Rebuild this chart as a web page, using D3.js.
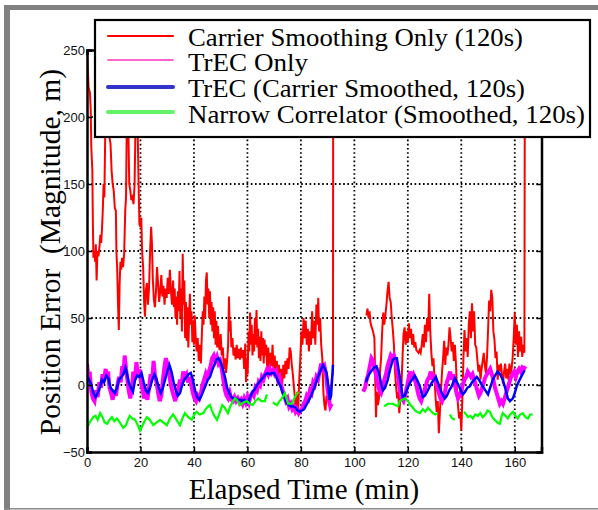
<!DOCTYPE html>
<html><head><meta charset="utf-8">
<script src="https://cdn.jsdelivr.net/npm/d3@7"></script>
<style>body{margin:0;background:#fff}svg{display:block}</style>
</head><body>
<svg id="chart" width="598" height="510"></svg>
<script>
// ---------------- DATA ----------------
const seriesNames = ["Carrier Smoothing Only (120s)", "TrEC Only", "TrEC (Carrier Smoothed, 120s)", "Narrow Correlator (Smoothed, 120s)"];
const xTicks = [0, 20, 40, 60, 80, 100, 120, 140, 160];
const yTicks = [-50, 0, 50, 100, 150, 200, 250];
const xLabel = "Elapsed Time (min)";
const yLabel = "Position Error  (Magnitude, m)";

// [minutes, metres]; null = data gap
const carrierSmoothingOnly = [
[0,250],[0.3,235],[0.6,222],[1.1,218],[1.4,205],[1.6,178],[2.0,160],[2.2,120],[2.4,95],[2.8,100],[3.0,92],[3.3,105],[3.6,78],[3.9,100],[4.3,96],[4.7,104],[5.0,112],[5.3,106],[5.6,116],[5.9,130],[6.2,150],[6.5,140],[6.8,185],[7.1,230],[7.4,200],[7.7,250],[8.0,210],[8.4,185],[8.8,180],[9.2,160],[9.6,150],[10.0,145],[10.4,132],[10.8,130],[11.0,100],[11.3,86],[11.6,60],[11.9,41],[12.2,75],[12.5,92],[12.8,86],[13.1,95],[13.5,88],[13.9,98],[14.3,130],[14.6,140],[15.0,220],[15.4,200],[15.8,150],[16.2,145],[16.6,138],[17.0,140],[17.4,135],[17.8,150],[18.2,200],[18.6,240],[19.0,185],[19.3,150],[19.6,120],[20.0,118],[20.3,125],[20.6,100],[21.0,88],[21.4,60],[21.7,51],[22.0,70],[22.4,76],[22.8,60],[23.2,72],[23.6,100],[24.0,118],[24.3,105],[24.6,80],[25.0,64],[25.4,58],[25.8,70],[26.2,88],[26.6,75],[27.0,62],[27.4,70],[27.8,82],[28.2,66],[28.6,74],[29.0,60],[29.4,72],[29.8,65],[30.2,80],[30.6,68],[31.0,86],[31.4,70],[31.8,60],[32.2,78],[32.5,58],[32.8,72],[33.1,50],[33.4,66],[33.7,45],[34.0,70],[34.3,55],[34.6,85],[34.9,50],[35.2,72],[35.5,40],[35.8,98],[36.1,60],[36.4,78],[36.7,35],[37.0,62],[37.3,33],[37.6,58],[37.9,28],[38.2,50],[38.5,68],[38.8,45],[39.1,55],[39.4,32],[39.7,48],[40.0,30],[40.3,52],[40.6,38],[41.0,25],[41.4,35],[41.8,18],[42.2,30],[42.6,16],[43.0,40],[43.3,55],[43.6,45],[43.9,66],[44.2,50],[44.5,78],[44.8,84],[45.1,60],[45.4,72],[45.7,50],[46.0,70],[46.3,45],[46.6,62],[46.9,40],[47.2,58],[47.5,35],[47.8,55],[48.1,30],[48.4,48],[48.7,28],[49.0,44],[49.3,30],[49.6,26],[50.0,38],[50.4,22],[50.8,28],[51.2,12],[51.6,20],[52.0,9],[52.4,18],[52.8,30],[53.1,66],[53.4,40],[53.7,48],[54.0,28],[54.4,35],[54.8,22],[55.2,28],[55.6,19],[56.0,30],[56.4,20],[56.8,27],[57.2,19],[57.6,28],[58.0,20],[58.4,26],[58.8,12],[59.2,31],[59.5,2],[59.8,20],[60.1,8],[60.4,40],[60.7,25],[61.0,54],[61.3,30],[61.6,45],[61.9,22],[62.2,38],[62.5,25],[62.8,50],[63.1,30],[63.4,56],[63.7,28],[64.0,42],[64.3,20],[64.6,36],[64.9,18],[65.2,40],[65.5,22],[65.8,35],[66.1,16],[66.4,34],[66.7,22],[67.0,30],[67.4,12],[67.8,28],[68.2,10],[68.6,24],[69.0,14],[69.4,30],[69.8,10],[70.2,22],[70.6,8],[71.0,18],[71.4,5],[71.8,15],[72.2,2],[72.6,12],[73.0,0],[73.4,15],[73.8,5],[74.2,18],[74.6,8],[75.0,20],[75.4,12],[75.8,28],[76.2,25],[76.6,15],[77.0,8],[77.4,-2],[77.8,-10],[78.2,-19],[78.6,-5],[79.0,-19],[79.4,5],[79.8,20],[80.2,40],[80.6,30],[81.0,50],[81.4,35],[81.8,48],[82.2,30],[82.6,42],[83.0,25],[83.4,40],[83.8,30],[84.2,55],[84.6,35],[85.0,48],[85.4,30],[85.8,60],[86.2,45],[86.5,65],[86.8,40],[87.2,50],[87.6,30],[88.0,20],[88.4,-5],[88.8,-15],[89.2,-19],[89.6,-8],[90.0,-10],[90.4,0],[90.8,-15],[91.2,-5],[91.6,5],[92.0,10],[92.1,270],
null,
[104.5,52],[104.9,57],[105.3,50],[105.7,55],[106.0,47],[106.5,43],[107.0,40],[107.5,35],[107.8,5],[108.1,-24],[108.4,-5],[108.8,-15],[109.2,-10],[109.6,10],[110.0,20],[110.4,40],[110.8,54],[111.2,45],[111.6,52],[112.0,60],[112.4,70],[112.8,77],[113.2,65],[113.6,62],[114.0,50],[114.4,41],[114.8,30],[115.2,10],[115.6,-1],[116.0,-10],[116.4,-5],[116.8,-21],[117.2,-10],[117.6,-2],[118.0,20],[118.4,38],[118.8,43],[119.2,30],[119.6,40],[120.0,32],[120.4,46],[120.8,35],[121.2,42],[121.6,30],[122.0,38],[122.4,28],[122.8,32],[123.2,26],[123.6,25],[124.0,24],[124.4,26],[124.8,24],[125.2,30],[125.6,38],[126.0,28],[126.4,45],[126.8,32],[127.2,50],[127.6,40],[128.0,68],[128.4,40],[128.8,24],[129.2,14],[129.6,20],[130.0,4],[130.4,-10],[130.8,-20],[131.2,-12],[131.6,-36],[132.0,-20],[132.4,-5],[132.8,10],[133.2,20],[133.6,33],[134.0,15],[134.4,28],[134.8,22],[135.2,30],[135.6,43],[136.0,35],[136.4,25],[136.8,32],[137.2,18],[137.6,30],[138.0,16],[138.4,-5],[138.8,-16],[139.2,-25],[139.6,-20],[140.0,-34],[140.4,-10],[140.8,20],[141.2,41],[141.6,25],[142.0,35],[142.4,21],[142.8,45],[143.2,55],[143.6,35],[144.0,61],[144.4,40],[144.8,55],[145.2,30],[145.6,28],[146.0,19],[146.4,10],[146.8,15],[147.2,4],[147.6,12],[148.0,18],[148.4,24],[148.8,15],[149.2,9],[149.6,20],[150.0,40],[150.4,63],[150.8,55],[151.2,71],[151.6,65],[152.0,40],[152.4,34],[152.8,20],[153.2,25],[153.6,4],[154.0,15],[154.4,10],[154.8,16],[155.2,8],[155.6,1],[156.0,10],[156.4,16],[156.8,5],[157.2,12],[157.6,4],[158.0,16],[158.4,8],[158.8,12],[159.2,20],[159.6,35],[160.0,54],[160.4,30],[160.8,45],[161.2,21],[161.6,40],[162.0,25],[162.4,36],[162.8,21],[163.2,30],[163.6,24],[163.8,270]
];

const trecOnly = [
[0,16],[0.5,5],[1,10],[1.6,-5],[2.2,-10],[2.8,-12],[3.4,-4],[4,-9],[4.6,2],[5.2,-2],[5.8,8],[6.4,4],[7,12],[7.4,6],[7.9,10],[8.4,-2],[9,-6],[9.6,-11],[10.2,-4],[10.8,-8],[11.4,0],[12,6],[12.6,2],[13.2,14],[13.6,8],[14.1,22],[14.6,12],[15.1,4],[15.6,-4],[16.2,-10],[16.8,-2],[17.3,10],[17.9,4],[18.5,17],[19,6],[19.6,12],[20.2,2],[20.8,-4],[21.4,-10],[22,-6],[22.6,-11],[23.2,-2],[23.8,8],[24.4,4],[24.9,18],[25.4,8],[26,2],[26.6,-6],[27.2,-12],[27.8,-8],[28.4,4],[29,14],[29.5,20],[30,16],[30.6,10],[31.2,2],[31.8,-4],[32.4,-8],[33,-12],[33.6,-6],[34.2,-2],[34.8,4],[35.4,0],[36,10],[36.6,6],[37.2,8],[37.8,2],[38.4,6],[39,0],[39.6,-6],[40.2,-10],[40.8,-12],[41.4,-8],[42,-10],[42.6,-6],[43.2,0],[43.8,4],[44.4,8],[45,4],[45.6,10],[46.2,14],[46.8,20],[47.4,22],[48,18],[48.6,21],[49.2,16],[49.8,18],[50.4,12],[51,4],[51.6,-4],[52.2,-8],[52.8,-10],[53.4,-6],[54,-11],[54.6,-12],[55.2,-9],[55.8,-12],[56.4,-10],[57,-13],[57.6,-11],[58.2,-14],[58.8,-10],[59.4,-13],[60,-9],[60.6,-13],[61.2,-8],[61.8,-6],[62.4,-8],[63,-2],[63.6,-4],[64.2,2],[64.8,0],[65.4,6],[66,4],[66.6,8],[67.2,11],[67.8,8],[68.4,12],[69,9],[69.6,11],[70.2,8],[70.8,10],[71.4,4],[72,6],[72.6,0],[73.2,-4],[73.8,-8],[74.4,-12],[75,-10],[75.6,-16],[76.2,-14],[76.8,-18],[77.4,-16],[78,-20],[78.6,-18],[79.2,-21],[79.8,-19],[80.4,-18],[81,-14],[81.6,-12],[82.2,-8],[82.8,-10],[83.4,-4],[84,-6],[84.6,2],[85.2,0],[85.8,6],[86.4,4],[87,10],[87.6,16],[88.2,12],[88.8,14],[89.4,8],[90,-4],[90.6,-12],[91,-16],[91.5,-14],
null,
[103.3,-5],[104,-2],[104.6,4],[105.2,8],[105.8,14],[106.4,20],[107,18],[107.6,12],[108.2,6],[108.8,0],[109.4,-4],[110,-6],[110.6,-2],[111.2,4],[111.8,8],[112.4,14],[113,18],[113.6,22],[114.2,20],[114.8,22],[115.4,18],[116,10],[116.6,2],[117.2,-6],[117.8,-10],[118.4,-12],[119,-8],[119.6,-2],[120.2,4],[120.8,10],[121.4,6],[122,8],[122.6,4],[123.2,0],[123.8,-6],[124.4,-10],[125,-12],[125.6,-8],[126.2,-4],[126.8,0],[127.4,4],[128,6],[128.6,10],[129.2,4],[129.8,8],[130.4,2],[131,-2],[131.6,-6],[132.2,-10],[132.8,-12],[133.4,-8],[134,-4],[134.6,2],[135.2,6],[135.8,10],[136.4,4],[137,8],[137.6,0],[138.2,-6],[138.8,-10],[139.4,-8],[140,-4],[140.6,0],[141.2,4],[141.8,6],[142.4,10],[143,8],[143.6,6],[144.2,8],[144.8,4],[145.4,0],[146,-4],[146.6,-8],[147.2,-6],[147.8,-2],[148.4,2],[149,6],[149.6,8],[150.2,10],[150.8,12],[151.4,8],[152,4],[152.6,-2],[153.2,-6],[153.8,-10],[154.4,-14],[155,-12],[155.6,-14],[156.2,-10],[156.8,-6],[157.4,-2],[158,2],[158.6,6],[159.2,8],[159.8,10],[160.4,6],[161,10],[161.6,12],[162.2,10],[162.8,13],[163.4,12],[164,14]
];

const trecCarrierSmoothed = [
[0,7],[0.8,4],[1.6,0],[2.4,-6],[3.2,-9],[4,-6],[4.8,-2],[5.6,4],[6.4,2],[7.2,7],[8,5],[8.8,-2],[9.6,-4],[10.4,-6],[11.2,-2],[12,4],[12.8,6],[13.6,8],[14.4,13],[15,8],[15.6,2],[16.4,-2],[17.2,-5],[18,4],[18.8,7],[19.6,6],[20.4,9],[21.2,2],[22,-4],[22.8,-6],[23.6,-2],[24.4,4],[25.2,8],[26,4],[26.8,-2],[27.6,-6],[28.4,-2],[29.2,4],[30,10],[30.8,15],[31.6,10],[32.4,2],[33.2,-4],[34,-8],[34.8,-6],[35.6,0],[36.4,4],[37.2,6],[38,8],[38.8,9],[39.6,4],[40.4,-4],[41.2,-9],[42,-11],[42.8,-8],[43.6,-4],[44.4,0],[45.2,4],[46,6],[46.8,11],[47.6,15],[48.4,19],[49.2,20],[50,17],[50.8,12],[51.6,6],[52.4,-2],[53.2,-6],[54,-9],[54.8,-10],[55.6,-10],[56.4,-11],[57.2,-11],[58,-12],[58.8,-11],[59.6,-13],[60.4,-12],[61.2,-8],[62,-5],[62.8,-3],[63.6,0],[64.4,2],[65.2,4],[66,6],[66.8,8],[67.6,9],[68.4,8],[69.2,9],[70,9],[70.8,6],[71.6,2],[72.4,-1],[73.2,-6],[74,-10],[74.8,-14],[75.6,-15],[76.4,-16],[77.2,-16],[78,-17],[78.8,-19],[79.6,-20],[80.4,-19],[81.2,-18],[82,-15],[82.8,-12],[83.6,-9],[84.4,-5],[85.2,-1],[86,4],[86.8,8],[87.6,12],[88.3,15],[89,12],[89.6,9],[90.2,0],[90.8,-11],[91.3,-8],[91.7,5],[92,15],
null,
[104.3,2],[105,6],[105.8,9],[106.6,11],[107.4,13],[108.3,14],[109,10],[109.5,6],[110.1,0],[110.7,-4],[111.5,-2],[112.5,4],[113.4,12],[114.4,19],[115.2,20],[115.9,20],[116.5,12],[117,6],[117.6,-2],[118.1,-10],[118.8,-8],[119.6,-4],[120.4,0],[121.2,3],[122,5],[122.6,7],[123.4,4],[124.5,-1],[125,-5],[125.6,-9],[126.4,-8],[127.2,-5],[128.2,-1],[129,2],[129.8,4],[130.5,6],[131.2,2],[132,-2],[132.7,-6],[133.8,-10],[134.6,-8],[135.5,-4],[136.4,-1],[137,2],[137.6,5],[138.4,2],[139.4,-2],[140,-5],[140.6,-7],[141.4,-5],[142.3,-2],[143.2,-1],[144,2],[144.9,4],[145.8,6],[146.6,4],[147.4,1],[148,-1],[149,-4],[150,-7],[150.8,-2],[151.8,4],[152.6,7],[153.6,10],[154.5,8],[155.5,4],[156.4,-2],[157.4,-10],[158.2,-12],[159.3,-10],[160,-6],[160.7,-1],[161.6,3],[162.6,7],[163.7,11]
];

const narrowCorrelator = [
[0,-32],[1,-28],[2.3,-24],[3.2,-23],[4,-26],[4.9,-21],[5.8,-24],[6.6,-28],[7.5,-29],[8.4,-26],[9.3,-24],[10.2,-27],[11.2,-25],[12.3,-28],[13.5,-32],[14.6,-30],[15.3,-26],[16,-23],[17,-25],[18,-26],[19,-30],[19.8,-34],[20.6,-31],[21.5,-27],[22.4,-24],[23.5,-26],[24.8,-30],[26,-28],[27.3,-26],[28.6,-28],[29.9,-30],[31,-25],[32.2,-22],[33.5,-26],[34.8,-30],[35.7,-25],[36.6,-21],[37.9,-24],[39.2,-26],[40.1,-22],[41,-20],[42.2,-22],[43.5,-21],[44.4,-18],[45.3,-16],[46,-15],[46.7,-19],[47.6,-23],[48.6,-26],[49.6,-21],[50.6,-15],[51.5,-17],[52.7,-21],[53.6,-16],[54.6,-12],[55.4,-10],[56,-11],[57.2,-15],[58.5,-13],[59.8,-12],[60.9,-14],[62,-15],[63,-12],[64,-10],[65.2,-12],[66.5,-12],[67.3,-7],
null,
[69.5,-13],[71,-15],[72,-12],[72.9,-10],[74,-6],[75.2,-14],[76.6,-14],[77.8,-9],[79,-5],
null,
[111.2,-16],[112.5,-14],[114.4,-14],[116.3,-16],[117,-12],[118.9,-10],[120,-12],[121,-15],[121.9,-17],[122.7,-19],[123.4,-20],[124.5,-21],[125.6,-18],[126.5,-20],[127.5,-17],[128.5,-19],[129.4,-21],[130.3,-22],[131.2,-21],
null,
[135.7,-22],[136.6,-25],[137.6,-26],
null,
[141,-20],[141.8,-22],[142.5,-24],[143.4,-23],[144.3,-25],[145.2,-22],[146.2,-23],[147.1,-21],[148,-24],[149,-22],[149.8,-19],[150.7,-20],[151.6,-24],[152.5,-26],[153.5,-28],[154.4,-29],[155,-24],[155.5,-21],[156.5,-23],[157.4,-25],[158.3,-22],[159.3,-20],[160.2,-23],[161.1,-25],[162,-22],[163,-21],[164,-24],[164.9,-25],[165.8,-22],[166.7,-22]
];

// ---------------- DRAW ----------------
const svg = d3.select("#chart");
const serif = "'Liberation Serif','Times New Roman',Times,serif";
const sans = "'Liberation Sans',Arial,Helvetica,sans-serif";

// outer frame
svg.append("rect").attr("x",4).attr("y",5).attr("width",594).attr("height",5).attr("fill","#808080");
svg.append("rect").attr("x",4).attr("y",5).attr("width",6).attr("height",505).attr("fill","#808080");
svg.append("line").attr("x1",4).attr("x2",598).attr("y1",508.8).attr("y2",508.8).attr("stroke","#8a8a8a").attr("stroke-width",1.5);

const x = d3.scaleLinear().domain([0,170]).range([87,541.5]);
const y = d3.scaleLinear().domain([-50,250]).range([452,50]);

// grid
const grid = svg.append("g").attr("stroke","#000").attr("stroke-width",1.8).attr("stroke-dasharray","1.6,2.6");
xTicks.filter(t=>t>0).forEach(t=>{
  grid.append("line").attr("x1",x(t)).attr("x2",x(t)).attr("y1",y(-50)).attr("y2",y(250));
});
yTicks.filter(t=>t>-50 && t<250).forEach(t=>{
  grid.append("line").attr("x1",x(0)).attr("x2",x(170)).attr("y1",y(t)).attr("y2",y(t));
});

// clip
svg.append("clipPath").attr("id","plotclip").append("rect")
  .attr("x",x(0)).attr("y",y(250)).attr("width",x(170)-x(0)).attr("height",y(-50)-y(250));

const line = d3.line().defined(d=>d!==null).x(d=>x(d[0])).y(d=>y(d[1]));
const plot = svg.append("g").attr("clip-path","url(#plotclip)");
plot.append("path").datum(carrierSmoothingOnly).attr("d",line).attr("fill","none").attr("stroke","#ff0000").attr("stroke-width",2);
plot.append("path").datum(trecOnly).attr("d",line).attr("fill","none").attr("stroke","#ff00ff").attr("stroke-width",4);
plot.append("path").datum(trecCarrierSmoothed).attr("d",line).attr("fill","none").attr("stroke","#0000ff").attr("stroke-width",2.5);
plot.append("path").datum(narrowCorrelator).attr("d",line).attr("fill","none").attr("stroke","#00ff00").attr("stroke-width",2.2);

// axes
const gx = svg.append("g").attr("transform",`translate(0,${y(-50)})`)
  .call(d3.axisBottom(x).tickValues(xTicks).tickSize(-5).tickPadding(6));
const gy = svg.append("g").attr("transform",`translate(${x(0)},0)`)
  .call(d3.axisLeft(y).tickValues(yTicks).tickSize(-5).tickPadding(2));
const gr = svg.append("g").attr("transform",`translate(${x(170)},0)`)
  .call(d3.axisRight(y).tickValues(yTicks).tickSize(-5).tickFormat(""));
const gt = svg.append("g").attr("transform",`translate(0,${y(250)})`)
  .call(d3.axisTop(x).tickValues(xTicks).tickSize(-5).tickFormat(""));
[gx,gy,gr,gt].forEach(g=>{
  g.select(".domain").attr("stroke","#000").attr("stroke-width",2.5);
  g.selectAll(".tick line").attr("stroke","#000").attr("stroke-width",1.5);
  g.selectAll(".tick text").attr("fill","#111").style("font-family",sans).style("font-size","13px");
});

// axis titles
svg.append("text").attr("x",304).attr("y",498.5).attr("text-anchor","middle")
  .style("font-family",serif).style("font-size","29px").attr("fill","#000").text(xLabel);
svg.append("text").attr("transform","translate(60,252) rotate(-90)").attr("text-anchor","middle")
  .style("font-family",serif).style("font-size","29.5px").attr("fill","#000").style("white-space","pre").text(yLabel);

// legend
const lg = svg.append("g");
lg.append("rect").attr("x",95).attr("y",20).attr("width",495).attr("height",117).attr("fill","#fff").attr("stroke","#000").attr("stroke-width",2.2);
const legendStyles = [
  {color:"#ff0000", width:2,  ly:36,  ty:46, len:335},
  {color:"#ff66cc", width:1.8,ly:60,  ty:71, len:120},
  {color:"#3333cc", width:4,  ly:87,  ty:97, len:337},
  {color:"#66f266", width:4,  ly:112, ty:123, len:397}
];
seriesNames.forEach((name,i)=>{
  const s = legendStyles[i];
  lg.append("line").attr("x1",108).attr("x2",173).attr("y1",s.ly).attr("y2",s.ly)
    .attr("stroke",s.color).attr("stroke-width",s.width).attr("stroke-linecap","round");
  lg.append("text").attr("x",188).attr("y",s.ty).style("font-family",serif).style("font-size","25px")
    .attr("textLength",s.len).attr("lengthAdjust","spacingAndGlyphs").attr("fill","#000").text(name);
});
</script>
</body></html>
